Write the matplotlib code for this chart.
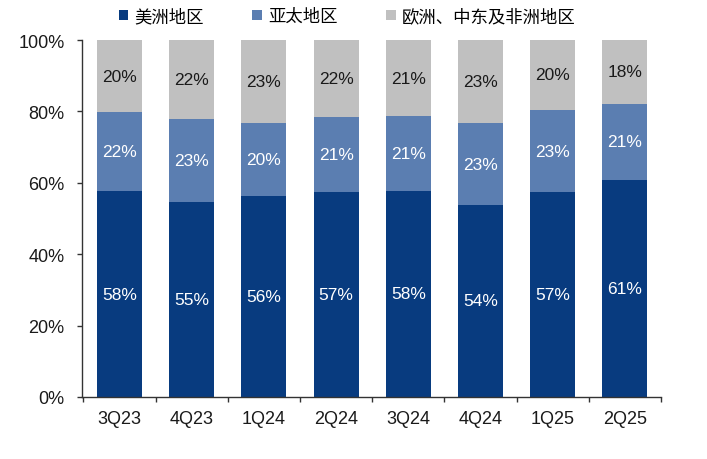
import matplotlib
matplotlib.use("Agg")
import matplotlib.pyplot as plt
from matplotlib.patches import Patch
import numpy as np

categories = ["3Q23", "4Q23", "1Q24", "2Q24", "3Q24", "4Q24", "1Q25", "2Q25"]
americas = [57.6, 54.6, 56.4, 57.4, 57.8, 53.8, 57.4, 60.8]
apac = [22.2, 23.2, 20.3, 21.0, 20.8, 22.9, 23.0, 21.3]
emea = [20.2, 22.2, 23.3, 21.6, 21.4, 23.3, 19.6, 17.9]
series_names = ["美洲地区", "亚太地区", "欧洲、中东及非洲地区"]
yticks = [0, 20, 40, 60, 80, 100]

colors = ["#083b7f", "#5b7eb1", "#c0c0c0"]
text_colors = ["white", "white", "#1a1a1a"]

fig = plt.figure(figsize=(7.07, 4.60), dpi=100)
ax = fig.add_axes([82/707, 1-398/460, 579/707, 357/460])

x = np.arange(len(categories))
bottom = np.zeros(len(categories))
width = 0.625
for vals, col, tc in zip([americas, apac, emea], colors, text_colors):
    v = np.array(vals, dtype=float)
    ax.bar(x, v, width=width, bottom=bottom, color=col, edgecolor="none")
    for xi, b, h in zip(x, bottom, v):
        ax.text(xi, b + h/2, f"{h:.0f}%", ha="center", va="center",
                color=tc, fontsize=12.5, family="Liberation Sans")
    bottom += v

ax.set_xlim(-0.52, len(categories) - 0.5)
ax.set_ylim(0, 100)
ax.set_yticks(yticks)
ax.set_yticklabels([f"{t}%" for t in yticks], fontsize=13, family="Liberation Sans", color="#1a1a1a")
ax.set_xticks(x)
ax.set_xticklabels(categories, fontsize=13, family="Liberation Sans", color="#1a1a1a")
ax.tick_params(axis="x", which="major", length=0, pad=9.5)
ax.set_xticks(np.arange(-0.5, len(categories)), minor=True)
ax.tick_params(axis="x", which="minor", length=3.5, direction="out", color="#333333", width=1)
ax.tick_params(axis="y", length=3.5, direction="out", color="#333333", width=1, pad=9)
for s in ["top", "right"]:
    ax.spines[s].set_visible(False)
for s in ["left", "bottom"]:
    ax.spines[s].set_color("#333333")
    ax.spines[s].set_linewidth(1)

handles = [Patch(facecolor=c, edgecolor="none") for c in colors]
leg = fig.legend(handles, series_names, loc="center", bbox_to_anchor=(347/707, 1-17/460),
                 ncol=3, frameon=False, handlelength=0.55, handleheight=0.55,
                 handletextpad=0.35, columnspacing=2.8,
                 prop={"family": ["Noto Sans CJK SC", "DejaVu Sans"], "size": 12.5})

fig.savefig("out.png", dpi=100)
